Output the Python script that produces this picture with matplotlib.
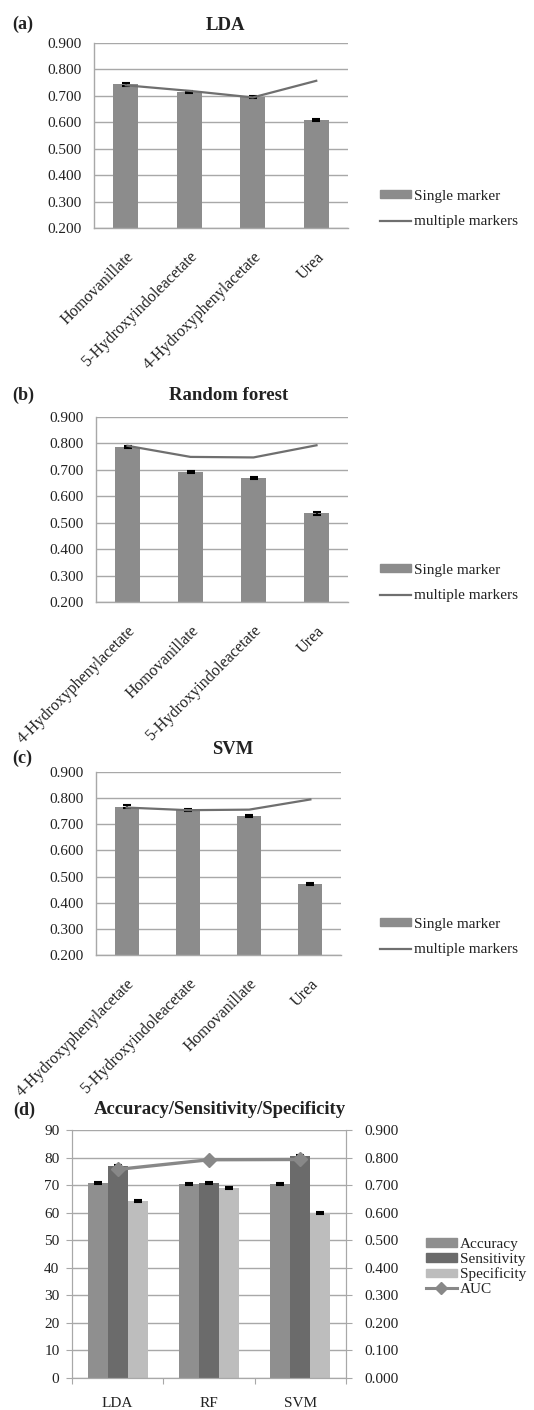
import numpy as np
import matplotlib
matplotlib.use("Agg")
import matplotlib.pyplot as plt

plt.rcParams['font.family'] = ['Liberation Serif', 'DejaVu Serif']
plt.rcParams['font.size'] = 11

# ---------------- datos ----------------
cats_a = ["Homovanillate", "5-Hydroxyindoleacetate", "4-Hydroxyphenylacetate", "Urea"]
single_a = [0.743, 0.714, 0.697, 0.607]
multi_a = [0.740, 0.719, 0.694, 0.757]

cats_b = ["4-Hydroxyphenylacetate", "Homovanillate", "5-Hydroxyindoleacetate", "Urea"]
single_b = [0.787, 0.691, 0.670, 0.535]
multi_b = [0.791, 0.749, 0.747, 0.793]

cats_c = ["4-Hydroxyphenylacetate", "5-Hydroxyindoleacetate", "Homovanillate", "Urea"]
single_c = [0.768, 0.753, 0.730, 0.470]
multi_c = [0.764, 0.754, 0.756, 0.795]

err_single = [0.004, 0.004, 0.004, 0.004]

methods = ["LDA", "RF", "SVM"]
accuracy = [70.6, 70.3, 70.3]
sensitivity = [77.1, 70.9, 80.7]
specificity = [64.1, 69.1, 60.0]
auc = [0.757, 0.792, 0.793]
err_d = [0.35, 0.35, 0.35]

# ---------------- estilo ----------------
BAR = "#8c8c8c"
LINE = "#6f6f6f"
GRID = "#a8a8a8"
TXT = "#222222"

W, H = 534, 1410
fig = plt.figure(figsize=(W / 100, H / 100), dpi=100)


def rect(l, r, t, b):
    return [l / W, 1 - b / H, (r - l) / W, (b - t) / H]


def panel(box, cats, single, multi, title, tag, title_xy, tag_y, leg_y):
    ax = fig.add_axes(rect(*box))
    x = np.arange(len(cats))
    ax.bar(x, single, width=0.39, color=BAR, bottom=0, zorder=2)
    ax.errorbar(x, single, yerr=err_single, fmt="none", ecolor="black",
                elinewidth=1.2, capsize=3, capthick=1.5, zorder=3)
    ax.plot(x, multi, color=LINE, lw=1.6, zorder=4)
    ax.set_xlim(-0.5, len(cats) - 0.5)
    ax.set_ylim(0.2, 0.9)
    ax.set_yticks(np.arange(0.2, 0.91, 0.1))
    ax.set_yticklabels([f"{v:.3f}" for v in np.arange(0.2, 0.91, 0.1)], color=TXT)
    ax.yaxis.grid(True, color=GRID, lw=1.0, zorder=0)
    ax.set_axisbelow(True)
    ax.set_xticks(x)
    ax.set_xticklabels(cats, rotation=45, ha="right", va="top",
                       rotation_mode="anchor", color=TXT, fontsize=11.6)
    ax.tick_params(axis="both", length=0)
    ax.tick_params(axis="y", pad=9)
    ax.tick_params(axis="x", pad=15)
    for s in ["top", "right"]:
        ax.spines[s].set_visible(False)
    for s in ["left", "bottom"]:
        ax.spines[s].set_color(GRID)
        ax.spines[s].set_linewidth(1.0)
    fig.text(title_xy[0] / W, 1 - title_xy[1] / H, title, ha="center", va="center",
             fontsize=13.5, fontweight="bold", color=TXT)
    fig.text(12 / W, 1 - tag_y / H, tag, ha="left", va="center",
             fontsize=13, fontweight="bold", color=TXT)
    h1 = plt.Rectangle((0, 0), 1, 1, color=BAR)
    h2 = plt.Line2D([], [], color=LINE, lw=1.6)
    fig.legend([h1, h2], ["Single marker", "multiple markers"],
               loc="center left", bbox_to_anchor=(374 / W, 1 - leg_y / H),
               frameon=False, handlelength=2.0, handleheight=0.5,
               handletextpad=0.2, labelspacing=0.85, borderaxespad=0,
               labelcolor=TXT)
    return ax


panel((94, 348, 43, 228), cats_a, single_a, multi_a, "LDA", "(a)", (225, 25), 24, 209)
panel((96, 348, 417, 602), cats_b, single_b, multi_b, "Random forest", "(b)", (229, 395), 395, 583)
panel((96, 341, 772, 955), cats_c, single_c, multi_c, "SVM", "(c)", (233, 750), 758, 937)

# ---------------- panel (d) ----------------
axd = fig.add_axes(rect(72, 346, 1130, 1378))
x = np.arange(len(methods))
bw = 0.22
cols = ["#8f8f8f", "#6b6b6b", "#bdbdbd"]
series = [accuracy, sensitivity, specificity]
names = ["Accuracy", "Sensitivity", "Specificity"]
handles = []
for i, (vals, c) in enumerate(zip(series, cols)):
    xi = x + (i - 1) * bw
    axd.bar(xi, vals, width=bw, color=c, zorder=2)
    axd.errorbar(xi, vals, yerr=err_d, fmt="none", ecolor="black",
                 elinewidth=1.2, capsize=3, capthick=1.5, zorder=3)
    handles.append(plt.Rectangle((0, 0), 1, 1, color=c))
axd.set_xlim(-0.5, 2.5)
axd.set_ylim(0, 90)
axd.set_yticks(np.arange(0, 91, 10))
axd.yaxis.grid(True, color=GRID, lw=1.0, zorder=0)
axd.set_axisbelow(True)
axd.set_xticks([-0.5, 0.5, 1.5, 2.5])
axd.set_xticklabels([])
axd.set_xticks(x, minor=True)
axd.set_xticklabels(methods, minor=True, color=TXT)
axd.tick_params(axis="x", which="minor", length=0, pad=14)
axd.tick_params(axis="x", which="major", length=4, direction="out", color=GRID)
axd.tick_params(axis="y", length=4, direction="out", color=GRID, pad=5, labelcolor=TXT)
axd.spines["top"].set_visible(False)
for s in ["left", "bottom", "right"]:
    axd.spines[s].set_color(GRID)

ax2 = axd.twinx()
ax2.set_ylim(0, 0.9)
ax2.set_yticks(np.arange(0, 0.91, 0.1))
ax2.set_yticklabels([f"{v:.3f}" for v in np.arange(0, 0.91, 0.1)], color=TXT)
ax2.tick_params(axis="y", length=4, direction="out", color=GRID, pad=9)
ax2.plot(x, auc, color="#888888", lw=2.4, marker="D", markersize=7, zorder=4)
ax2.spines["top"].set_visible(False)
for s in ["left", "bottom", "right"]:
    ax2.spines[s].set_color(GRID)
handles.append(plt.Line2D([], [], color="#888888", lw=2.2, marker="D", markersize=6))

fig.text(220 / W, 1 - 1109 / H, "Accuracy/Sensitivity/Specificity", ha="center",
         va="center", fontsize=13.5, fontweight="bold", color=TXT)
fig.text(13 / W, 1 - 1110 / H, "(d)", ha="left", va="center",
         fontsize=13, fontweight="bold", color=TXT)
fig.legend(handles, names + ["AUC"], loc="center left",
           bbox_to_anchor=(420 / W, 1 - 1267 / H), frameon=False,
           handlelength=2.0, handleheight=0.5, handletextpad=0.2,
           labelspacing=0.12, borderaxespad=0, labelcolor=TXT)

fig.savefig("out.png", dpi=100)
